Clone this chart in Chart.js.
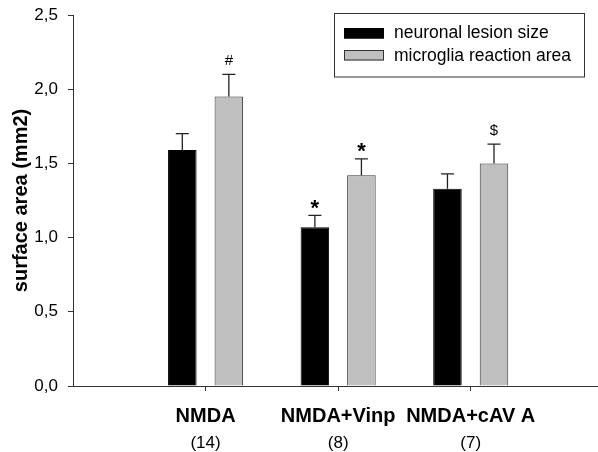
<!DOCTYPE html>
<html>
<head>
<meta charset="utf-8">
<script src="https://cdn.jsdelivr.net/npm/chart.js@4/dist/chart.umd.min.js"></script>
<style>
  html, body { margin: 0; padding: 0; background: #fff; }
  #wrap { width: 598px; height: 452px; }
</style>
</head>
<body>
<div id="wrap"><canvas id="c" width="598" height="452"></canvas></div>
<script>
// ---- data ----
const categories = ['NMDA', 'NMDA+Vinp', 'NMDA+cAV A'];
const groupSizes = ['(14)', '(8)', '(7)'];
const positions = [1, 2, 3];
const lesionSize = [1.59, 1.07, 1.33];
const lesionErr = [0.11, 0.08, 0.10];
const microgliaArea = [1.95, 1.42, 1.50];
const microgliaErr = [0.15, 0.11, 0.13];
const lesionMarks = ['', '*', ''];
const microgliaMarks = ['#', '*', '$'];
const yTicks = [0, 0.5, 1.0, 1.5, 2.0, 2.5];
const seriesNames = ['neuronal lesion size', 'microglia reaction area'];

const FONT = '"Liberation Sans", Arial, Helvetica, sans-serif';
Chart.defaults.font.family = FONT;
Chart.defaults.color = '#000';

const errs = [lesionErr, microgliaErr];
const marks = [lesionMarks, microgliaMarks];

const errorBarPlugin = {
  id: 'errorBars',
  afterDatasetsDraw(chart) {
    const ctx = chart.ctx;
    const yScale = chart.scales.y;
    chart.data.datasets.forEach((ds, di) => {
      const meta = chart.getDatasetMeta(di);
      meta.data.forEach((el, i) => {
        const v = ds.data[i].y;
        const top = yScale.getPixelForValue(v + errs[di][i]);
        ctx.save();
        ctx.strokeStyle = '#222';
        ctx.lineWidth = 1.3;
        ctx.beginPath();
        ctx.moveTo(el.x, el.y);
        ctx.lineTo(el.x, top);
        ctx.moveTo(el.x - 6.5, top);
        ctx.lineTo(el.x + 6.5, top);
        ctx.stroke();
        const m = marks[di][i];
        if (m) {
          ctx.fillStyle = '#000';
          ctx.textAlign = 'center';
          ctx.textBaseline = 'alphabetic';
          if (m === '*') {
            ctx.font = 'bold 22px ' + FONT;
            ctx.fillText(m, el.x, top - 0.5);
          } else {
            ctx.font = '15px ' + FONT;
            ctx.fillText(m, el.x, top - 9.5);
          }
        }
        ctx.restore();
      });
    });
  }
};

const boxLegendPlugin = {
  id: 'boxLegend',
  afterDraw(chart) {
    const ctx = chart.ctx;
    const a = chart.chartArea;
    const L = a.right - 264, T = a.top - 2.5, W = 250, H = 63.5;
    ctx.save();
    ctx.strokeStyle = '#333';
    ctx.lineWidth = 1;
    ctx.strokeRect(Math.round(L) + 0.5, Math.round(T) + 0.5, W, H);
    const baselines = [T + 25.8, T + 48.2];
    const swTops = [T + 15.5, T + 37.5];
    chart.data.datasets.forEach((ds, i) => {
      ctx.fillStyle = ds.backgroundColor;
      ctx.fillRect(L + 10, swTops[i], 40, 10.5);
      ctx.strokeStyle = ds.borderColor;
      ctx.lineWidth = 1;
      ctx.strokeRect(L + 10 + 0.5, swTops[i] + 0.5, 39, 9.5);
      ctx.fillStyle = '#000';
      ctx.font = '17.5px ' + FONT;
      ctx.textAlign = 'left';
      ctx.textBaseline = 'alphabetic';
      ctx.fillText(ds.label, L + 60, baselines[i]);
    });
    ctx.restore();
  }
};

const xMax = 3.96;
const setTicks = (s) => { s.ticks = positions.map(v => ({ value: v })); };

new Chart(document.getElementById('c'), {
  type: 'bar',
  data: {
    datasets: [
      {
        label: seriesNames[0],
        data: positions.map((p, i) => ({ x: p, y: lesionSize[i] })),
        backgroundColor: '#000000',
        borderColor: '#000000',
        borderWidth: 1,
        xAxisID: 'x'
      },
      {
        label: seriesNames[1],
        data: positions.map((p, i) => ({ x: p, y: microgliaArea[i] })),
        backgroundColor: '#c0c0c0',
        borderColor: '#333333',
        borderWidth: 1,
        xAxisID: 'x'
      }
    ]
  },
  options: {
    responsive: false,
    animation: false,
    categoryPercentage: 0.702,
    barPercentage: 0.613,
    layout: { padding: { top: 0, right: 0, bottom: 0, left: 0 } },
    plugins: { legend: { display: false }, tooltip: { enabled: false } },
    scales: {
      x: {
        type: 'linear',
        position: 'bottom',
        weight: 0,
        min: 0,
        max: xMax,
        offset: false,
        afterBuildTicks: setTicks,
        afterFit: (s) => { s.height = 40; },
        ticks: {
          autoSkip: false,
          maxRotation: 0,
          padding: 13,
          color: '#000',
          font: { size: 20, weight: 'bold' },
          callback: (v) => { const i = positions.indexOf(v); return i >= 0 ? categories[i] : ''; }
        },
        grid: { offset: false, drawOnChartArea: false, drawTicks: true, tickLength: 5, color: '#333' },
        border: { display: true, color: '#333', width: 1 }
      },
      x2: {
        type: 'linear',
        position: 'bottom',
        weight: 1,
        min: 0,
        max: xMax,
        offset: false,
        afterBuildTicks: setTicks,
        afterFit: (s) => { s.height = 26; },
        ticks: {
          autoSkip: false,
          maxRotation: 0,
          padding: 7,
          color: '#000',
          font: { size: 17 },
          callback: (v) => { const i = positions.indexOf(v); return i >= 0 ? groupSizes[i] : ''; }
        },
        grid: { display: false, drawTicks: false, offset: false },
        border: { display: false }
      },
      y: {
        min: 0,
        max: 2.5,
        afterBuildTicks: (s) => { s.ticks = yTicks.map(v => ({ value: v })); },
        afterFit: (s) => { s.width = 73; s.paddingTop = 15; s.paddingBottom = 0; },
        ticks: {
          padding: 10,
          color: '#000',
          font: { size: 17 },
          callback: (v) => Number(v).toFixed(1).replace('.', ',')
        },
        grid: { drawOnChartArea: false, drawTicks: true, tickLength: 5, color: '#333' },
        border: { display: true, color: '#333', width: 1 },
        title: {
          display: true,
          text: 'surface area (mm2)',
          color: '#000',
          font: { size: 20, weight: 'bold' },
          padding: { top: 9, bottom: 0 }
        }
      }
    }
  },
  plugins: [errorBarPlugin, boxLegendPlugin]
});
</script>
</body>
</html>
